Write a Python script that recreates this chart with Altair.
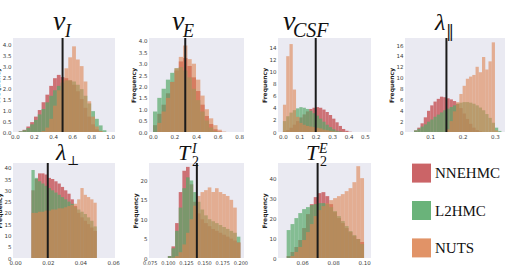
import altair as alt
import numpy as np
import pandas as pd

methods = ["NNEHMC", "L2HMC", "NUTS"]
colors = ["#C44E52", "#55A868", "#DD8452"]
opacities = [0.78, 0.6, 0.33]

# v_I : bins from 0.0, width 0.04
vi_bins = (0.0, 0.04)
vi_nnehmc = [0.0, 0.03, 0.1, 0.25, 0.45, 0.7, 1.0, 1.35, 1.7, 2.1, 2.45, 2.6, 2.5, 2.45, 2.35, 2.15, 1.85, 1.5, 1.1, 0.7, 0.35, 0.12, 0.03, 0.0, 0.0]
vi_l2hmc = [0.0, 0.03, 0.08, 0.18, 0.35, 0.55, 0.8, 1.05, 1.35, 1.65, 1.9, 2.1, 2.25, 2.35, 2.35, 2.3, 2.15, 1.95, 1.65, 1.3, 0.95, 0.6, 0.3, 0.08, 0.0]
vi_nuts = [0, 0, 0, 0, 0, 0, 0, 0.05, 0.2, 0.6, 1.2, 1.9, 2.4, 2.9, 3.4, 3.9, 3.3, 3.0, 2.3, 1.4, 0.7, 0.25, 0.05, 0, 0]

# v_E : bins from 0.0, width 0.04
ve_bins = (0.0, 0.04)
ve_nnehmc = [0.3, 0.8, 1.2, 1.7, 2.2, 2.7, 3.1, 3.25, 2.9, 2.4, 1.8, 1.2, 0.7, 0.35, 0.12, 0.03, 0.0]
ve_l2hmc = [0.9, 1.5, 1.9, 2.3, 2.6, 2.8, 2.85, 2.7, 2.4, 1.9, 1.4, 0.9, 0.5, 0.2, 0.05, 0.0, 0.0]
ve_nuts = [0.0, 0.4, 0.9, 1.5, 2.2, 2.8, 3.3, 3.8, 3.2, 3.0, 2.3, 1.6, 1.0, 0.6, 0.3, 0.1, 0.02]

# v_CSF : bins from 0.0, width 0.02
vcsf_bins = (0.0, 0.02)
vcsf_nnehmc = [0.1, 0.3, 0.7, 1.2, 1.8, 2.4, 2.9, 3.4, 3.8, 4.0, 4.1, 4.0, 3.7, 3.3, 2.8, 2.2, 1.6, 1.0, 0.5, 0.2, 0.05]
vcsf_l2hmc = [1.8, 2.6, 3.2, 3.6, 3.9, 4.1, 4.0, 3.8, 3.5, 3.1, 2.7, 2.2, 1.7, 1.2, 0.8, 0.45, 0.2, 0.08, 0.02, 0.0, 0.0]
vcsf_nuts = [4.5, 12.5, 14.5, 7.0, 2.5, 1.5, 1.2, 1.0, 0.9, 0.8, 0.7, 0.6, 0.4, 0.3, 0.2, 0.1, 0.05, 0.0, 0.0, 0.0, 0.0]

# lambda_par : bins from 0.05, width 0.01
lpar_bins = (0.05, 0.01)
lpar_nnehmc = [0.3, 0.8, 1.6, 2.7, 3.9, 4.9, 5.6, 6.1, 6.5, 6.4, 6.2, 6.0, 5.7, 5.2, 4.4, 3.4, 2.4, 1.5, 0.8, 0.35, 0.1, 0, 0, 0, 0, 0, 0]
lpar_l2hmc = [0.3, 0.6, 1.0, 1.4, 1.9, 2.3, 2.8, 3.2, 3.6, 4.0, 4.3, 4.6, 4.9, 5.2, 5.4, 5.5, 5.5, 5.4, 5.2, 4.9, 4.5, 4.0, 3.3, 2.6, 1.7, 0.8, 0.2]
lpar_nuts = [0, 0, 0, 0, 0, 0, 0, 0, 0, 0, 0.5, 2.0, 3.8, 5.5, 7.0, 8.5, 9.8, 10.2, 10.5, 12.0, 11.0, 13.8, 11.5, 13.0, 16.5, 0.3, 0]

# lambda_perp : bins from 0.010, width 0.002
lperp_bins = (0.010, 0.002)
lperp_nnehmc = [30, 35, 37.5, 37.5, 37, 35.5, 35, 34, 33, 31.5, 30, 28.5, 26, 23, 20, 18, 16.5, 15, 13.5, 12]
lperp_l2hmc = [39, 35.5, 34, 33, 32, 31, 30, 29, 28, 27, 26, 25, 24, 22.5, 21.5, 20.5, 19.5, 18, 16.5, 14]
lperp_nuts = [20, 20, 20.5, 20.5, 21, 21, 21.5, 21.5, 22, 22, 22.5, 23, 23.5, 24, 26, 31, 28, 27, 26, 24.5]

# T2^I : bins from 0.100, width 0.005
t2i_bins = (0.100, 0.005)
t2i_nnehmc = [0.5, 3, 9, 17, 22.5, 23.5, 19, 14.5, 11.5, 10, 9, 8.2, 7.5, 7, 6.5, 6, 5.5, 5, 4.5, 4]
t2i_l2hmc = [0.5, 2.5, 7, 13, 18, 20.8, 20, 17, 14.5, 12.5, 11, 10, 9.5, 9, 8.5, 8, 7.5, 7, 6.5, 5.5]
t2i_nuts = [0, 0.1, 0.5, 1.5, 3.5, 6.5, 10, 13.5, 16, 17, 17.5, 18.2, 17, 18, 17, 16.5, 16, 15, 13, 4]

# T2^E : bins from 0.050, width 0.0025
t2e_bins = (0.050, 0.0025)
t2e_nnehmc = [1, 3, 5.5, 9, 15, 22, 27, 30.5, 32.5, 33, 31, 27, 23, 20, 17.5, 15, 13, 11, 9.5, 8]
t2e_l2hmc = [14, 17, 20, 22.5, 24.5, 25.5, 26.5, 27, 27.5, 27.5, 27, 25.5, 23.5, 21, 18.5, 16, 13.5, 11.5, 9.5, 7]
t2e_nuts = [0, 1, 3, 5.5, 9, 13, 17, 21, 24, 26, 27.5, 29, 30, 31, 32, 33.5, 35, 38, 46, 40]

true_values = [0.5, 0.3, 0.2, 0.15, 0.02, 0.14, 0.07]

x_ticks = [
    [0.0, 0.2, 0.4, 0.6, 0.8, 1.0],
    [0.0, 0.2, 0.4, 0.6, 0.8],
    [0.0, 0.1, 0.2, 0.3, 0.4, 0.5],
    [0.1, 0.2, 0.3],
    [0.0, 0.02, 0.04, 0.06],
    [0.075, 0.1, 0.125, 0.15, 0.175, 0.2],
    [0.06, 0.08, 0.10],
]
y_ticks = [
    [0.0, 0.5, 1.0, 1.5, 2.0, 2.5, 3.0, 3.5, 4.0],
    [0.0, 0.5, 1.0, 1.5, 2.0, 2.5, 3.0, 3.5, 4.0],
    [0, 2, 4, 6, 8, 10, 12, 14],
    [0, 2, 4, 6, 8, 10, 12, 14, 16],
    [0, 5, 10, 15, 20, 25, 30, 35, 40],
    [0, 5, 10, 15, 20],
    [0, 10, 20, 30, 40],
]

color_scale = alt.Scale(domain=methods, range=colors)
opacity_scale = alt.Scale(domain=methods, range=opacities)

MATH = "Liberation Serif"
SYM = "DejaVu Serif"


def hist_df(bins, series):
    start, width = bins
    rows = []
    for k, (m, vals) in enumerate(zip(methods, series)):
        for j, v in enumerate(vals):
            if v > 0:
                rows.append({"m": m, "o": k, "x0": start + j * width, "x1": start + (j + 1) * width, "v": v})
    return pd.DataFrame(rows)


def text_layer(txt, x, y, size, font=MATH, italic=True):
    return alt.Chart(pd.DataFrame({"s": [txt]})).mark_text(
        align="left", baseline="alphabetic", font=font, fontSize=size,
        fontStyle="italic" if italic else "normal", color="#111"
    ).encode(text="s:N", x=alt.value(x), y=alt.value(y))


def panel(bins, series, truth, xt, xfmt, yt, yfmt, xdom, ydom, w, h, titles, xlabel_size=5.5):
    df = hist_df(bins, series)
    xaxis = alt.Axis(values=xt, format=xfmt, title=None, labelFlush=False,
                     labelOverlap=False, labelFontSize=xlabel_size)
    xscale = alt.Scale(domain=xdom, nice=False, zero=False)
    bars = alt.Chart(df).mark_rect(strokeWidth=0).encode(
        x=alt.X("x0:Q", scale=xscale, axis=xaxis),
        x2="x1:Q",
        y=alt.Y("v:Q", scale=alt.Scale(domain=ydom, nice=False, zero=True),
                axis=alt.Axis(values=yt, format=yfmt, title="Frequency", labelOverlap=False,
                              labelFlush=False)),
        y2=alt.datum(0),
        color=alt.Color("m:N", scale=color_scale, legend=None),
        opacity=alt.Opacity("m:N", scale=opacity_scale, legend=None),
        order=alt.Order("o:Q"),
    )
    rule = alt.Chart(pd.DataFrame({"t": [truth]})).mark_rule(color="#1b1b1b", strokeWidth=2).encode(
        x=alt.X("t:Q", scale=xscale, axis=xaxis)
    )
    layers = [bars, rule] + [text_layer(*t) for t in titles]
    return alt.layer(*layers).properties(width=w, height=h)


W = [102, 95, 93, 100]

p1 = panel(vi_bins, [vi_nnehmc, vi_l2hmc, vi_nuts], true_values[0], x_ticks[0], ".1f", y_ticks[0], ".1f",
           [-0.02, 1.05], [0, 4.28], W[0], 94,
           [("v", 40, -8, 28), ("I", 52, -1, 18)])
p2 = panel(ve_bins, [ve_nnehmc, ve_l2hmc, ve_nuts], true_values[1], x_ticks[1], ".1f", y_ticks[1], ".1f",
           [-0.037, 0.846], [0, 4.13], W[1], 94,
           [("v", 23, -8, 28), ("E", 34, -1, 18)])
p3 = panel(vcsf_bins, [vcsf_nnehmc, vcsf_l2hmc, vcsf_nuts], true_values[2], x_ticks[2], ".1f", y_ticks[2], "d",
           [-0.03, 0.537], [0, 15.5], W[2], 94,
           [("v", 5, -8, 28), ("CSF", 15, -1, 20)])
p4 = panel(lpar_bins, [lpar_nnehmc, lpar_l2hmc, lpar_nuts], true_values[3], x_ticks[3], ".1f", y_ticks[3], "d",
           [0.022, 0.331], [0, 17.3], W[3], 94,
           [("λ", 30, -8, 24), ("‖", 41, -1, 16, SYM, False)])
p5 = panel(lperp_bins, [lperp_nnehmc, lperp_l2hmc, lperp_nuts], true_values[4], x_ticks[4], ".2f", y_ticks[4], "d",
           [-0.0013, 0.0612], [0, 42.1], W[0], 95,
           [("λ", 43, -3, 24), ("⊥", 54, 2, 13, SYM, False)])
p6 = panel(t2i_bins, [t2i_nnehmc, t2i_l2hmc, t2i_nuts], true_values[5], x_ticks[5], ".3f", y_ticks[5], "d",
           [0.074, 0.205], [0, 24.5], W[1], 95,
           [("T", 29, -3, 22), ("2", 43, 3, 14, MATH, False), ("I", 43, -10, 14)], xlabel_size=5)
p7 = panel(t2e_bins, [t2e_nnehmc, t2e_l2hmc, t2e_nuts], true_values[6], x_ticks[6], ".2f", y_ticks[6], "d",
           [0.0444, 0.1045], [0, 47.6], W[2], 95,
           [("T", 28, -3, 22), ("2", 42, 3, 14, MATH, False), ("E", 41, -10, 14)])

leg_df = pd.DataFrame({"m": methods})
leg_y = alt.Y("m:N", scale=alt.Scale(domain=methods, type="point", padding=0.27), axis=None)
leg_sq = alt.Chart(leg_df).mark_square(size=361, opacity=0.88).encode(
    x=alt.value(16.5), y=leg_y, color=alt.Color("m:N", scale=color_scale, legend=None)
)
leg_tx = alt.Chart(leg_df).mark_text(align="left", baseline="middle", font=MATH, fontSize=15, color="#111").encode(
    x=alt.value(30), y=leg_y, text="m:N"
)
legend = alt.layer(leg_sq, leg_tx).properties(width=W[3], height=95,
                                              view=alt.ViewBackground(fill="#ffffff", strokeWidth=0))

chart = alt.concat(
    p1, p2, p3, p4, p5, p6, p7, legend,
    columns=4, spacing=alt.RowColnumber(row=31, column=34), bounds="flush"
).properties(
    padding={"left": -6, "top": 8, "right": 0, "bottom": 0}, background="white"
).configure_view(fill="#EAEAF2", strokeWidth=0).configure_axis(
    labelFontSize=5.5, labelColor="#3a3a3a", labelFont="DejaVu Sans", ticks=False, tickSize=0,
    domain=False, grid=False, labelPadding=2, titleFontSize=6, titleFontWeight="bold",
    titleColor="#222", titleFont="DejaVu Sans", titlePadding=2, labelOverlap=False, labelFlush=False
)

chart.save("out.html", embed_options={"renderer": "svg", "actions": False})
